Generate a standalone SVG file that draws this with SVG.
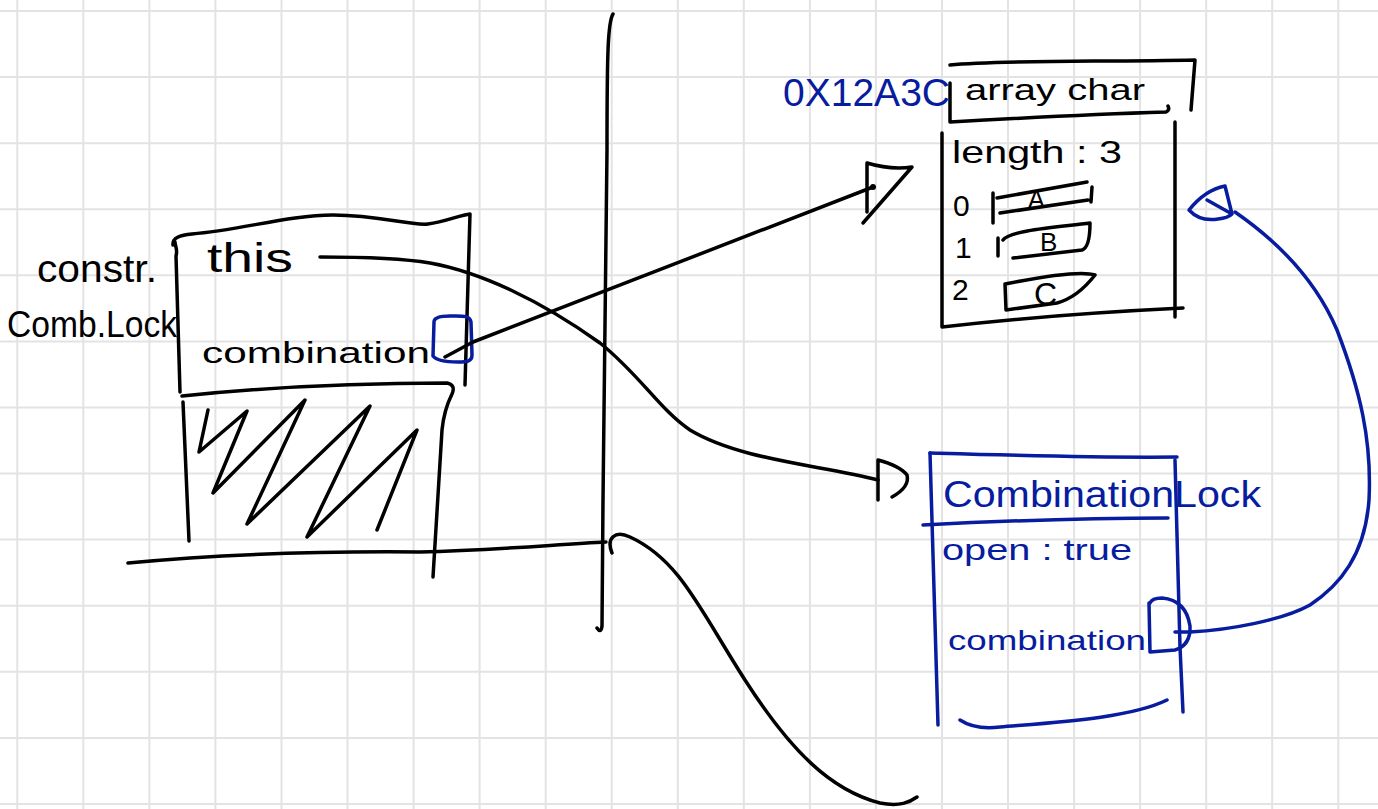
<svg xmlns="http://www.w3.org/2000/svg" width="1378" height="809" viewBox="0 0 1378 809">
<style>
.ink{fill:none;stroke:#000;stroke-width:3.5;stroke-linecap:round;stroke-linejoin:round}
.blue{fill:none;stroke:#071c9e;stroke-width:3.5;stroke-linecap:round;stroke-linejoin:round}
.t{font-family:"Liberation Sans",Arial,sans-serif;fill:#000}
.tb{font-family:"Liberation Sans",Arial,sans-serif;fill:#071c9e}
.grid line{stroke:#e3e3e3;stroke-width:2}
</style>
<rect width="1378" height="809" fill="#fff"/>
<g id="grid" class="grid">
<line x1="17.3" y1="0" x2="17.3" y2="809"/><line x1="83.3" y1="0" x2="83.3" y2="809"/><line x1="149.4" y1="0" x2="149.4" y2="809"/><line x1="215.4" y1="0" x2="215.4" y2="809"/><line x1="281.5" y1="0" x2="281.5" y2="809"/><line x1="347.5" y1="0" x2="347.5" y2="809"/><line x1="413.6" y1="0" x2="413.6" y2="809"/><line x1="479.6" y1="0" x2="479.6" y2="809"/><line x1="545.7" y1="0" x2="545.7" y2="809"/><line x1="611.7" y1="0" x2="611.7" y2="809"/><line x1="677.8" y1="0" x2="677.8" y2="809"/><line x1="743.8" y1="0" x2="743.8" y2="809"/><line x1="809.9" y1="0" x2="809.9" y2="809"/><line x1="875.9" y1="0" x2="875.9" y2="809"/><line x1="942" y1="0" x2="942" y2="809"/><line x1="1008" y1="0" x2="1008" y2="809"/><line x1="1074.1" y1="0" x2="1074.1" y2="809"/><line x1="1140.1" y1="0" x2="1140.1" y2="809"/><line x1="1206.2" y1="0" x2="1206.2" y2="809"/><line x1="1272.2" y1="0" x2="1272.2" y2="809"/><line x1="1338.3" y1="0" x2="1338.3" y2="809"/>
<line x1="0" y1="11" x2="1378" y2="11"/><line x1="0" y1="77.1" x2="1378" y2="77.1"/><line x1="0" y1="143.2" x2="1378" y2="143.2"/><line x1="0" y1="209.2" x2="1378" y2="209.2"/><line x1="0" y1="275.3" x2="1378" y2="275.3"/><line x1="0" y1="341.4" x2="1378" y2="341.4"/><line x1="0" y1="407.5" x2="1378" y2="407.5"/><line x1="0" y1="473.6" x2="1378" y2="473.6"/><line x1="0" y1="539.6" x2="1378" y2="539.6"/><line x1="0" y1="605.7" x2="1378" y2="605.7"/><line x1="0" y1="671.8" x2="1378" y2="671.8"/><line x1="0" y1="737.9" x2="1378" y2="737.9"/><line x1="0" y1="804" x2="1378" y2="804"/>
</g>
<g id="divider">
<path class="ink" d="M613,14 C608,22 607,50 607,150 L603,500 L602,626 Q601,634 597,628"/>
</g>
<g id="stack-frame">
<path class="ink" d="M173,245 C172,238 180,235 192,234 C240,230 290,215 333,215 C380,215 410,226 428,224 C445,222 460,215 470,214 L465,385"/>
<path class="ink" d="M175,242 C175,246 178,250 176,256 L180,392"/>
<path class="ink" d="M182,396 C250,389 350,383 447,383 Q456,385 452,394 Q444,410 442,430 L433,577"/>
<path class="ink" d="M183,402 L189,541"/>
<path class="ink" d="M208,410 L199,452 L247,411 L213,493 L305,400 L247,524 L370,406 L307,537 L417,430 L377,530"/>
<path class="ink" d="M128,563 C200,556 300,551 420,552 C500,550 560,544 606,542"/>
<text class="t" x="37" y="282" font-size="38" textLength="120" lengthAdjust="spacingAndGlyphs">constr.</text>
<text class="t" x="7" y="337" font-size="36" textLength="170" lengthAdjust="spacingAndGlyphs">Comb.Lock</text>
<text class="t" x="207" y="272" font-size="40" textLength="86" lengthAdjust="spacingAndGlyphs">this</text>
<text class="t" x="202" y="363" font-size="30" textLength="228" lengthAdjust="spacingAndGlyphs">combination</text>
<path class="blue" d="M434,322 C434,318 440,316 450,316 C462,316 470,315 471,322 L472,355 C472,362 466,362 458,362 C444,362 436,360 433,356 Z"/>
</g>
<g id="array-object">
<text class="tb" x="783" y="106" font-size="38" textLength="167" lengthAdjust="spacingAndGlyphs">0X12A3C</text>
<path class="ink" d="M950,65 C1000,60 1100,62 1195,60 L1191,110"/>
<path class="ink" d="M950,83 L950,122 C1020,118 1100,114 1166,112 Q1170,110 1168,106"/>
<path class="ink" d="M942,133 L942,327 C1020,318 1100,312 1183,308"/>
<path class="ink" d="M1175,122 L1175,317"/>
<text class="t" x="965" y="100" font-size="30" textLength="180" lengthAdjust="spacingAndGlyphs">array char</text>
<text class="t" x="952" y="163" font-size="32" textLength="170" lengthAdjust="spacingAndGlyphs">length : 3</text>
<text class="t" x="953" y="216" font-size="30">0</text>
<text class="t" x="955" y="258" font-size="30">1</text>
<text class="t" x="952" y="300" font-size="30">2</text>
<path class="ink" d="M993,193 L993,223 M997,198 L1087,182 M1000,213 L1088,200 M1092,187 L1091,202"/>
<text class="t" x="1028" y="208" font-size="25">A</text>
<path class="ink" d="M998,238 L998,256 M1003,240 C1010,230 1060,227 1090,223 C1090,238 1088,248 1082,250 L1013,258"/>
<text class="t" x="1040" y="251" font-size="26">B</text>
<path class="ink" d="M1005,284 L1006,310 L1057,303 C1075,298 1088,284 1095,275 C1080,270 1040,277 1005,284"/>
<text class="t" x="1034" y="305" font-size="32">C</text>
</g>
<g id="lock-object">
<path class="blue" d="M930,453 C1000,455 1100,458 1177,457"/>
<path class="blue" d="M930,453 L938,725"/>
<path class="blue" d="M1175,460 L1180,647 L1183,712"/>
<path class="blue" d="M923,525 C1000,521 1100,518 1168,518"/>
<path class="blue" d="M960,720 Q975,730 1000,727 C1060,722 1130,718 1167,700"/>
<text class="tb" x="943" y="507" font-size="36" textLength="318" lengthAdjust="spacingAndGlyphs">CombinationLock</text>
<text class="tb" x="942" y="560" font-size="30" textLength="190" lengthAdjust="spacingAndGlyphs">open : true</text>
<text class="tb" x="948" y="650" font-size="28" textLength="198" lengthAdjust="spacingAndGlyphs">combination</text>
<path class="blue" d="M1149,603 L1150,652 L1175,650 Q1191,645 1190,626 Q1186,600 1162,598 Q1152,598 1150,603"/>
</g>
<g id="connectors">
<path class="ink" d="M320,257 C360,257 400,258 430,263 C480,272 540,300 600,343 C640,375 660,410 690,430 C740,460 820,465 878,480"/>
<path class="ink" d="M878,460 L878,500 M878,460 Q900,466 907,475 Q910,487 892,497"/>
<path class="ink" d="M445,357 L473,342 L873,187"/>
<path class="ink" d="M867,163 L867,212 M867,163 Q890,170 912,167 L863,223"/>
<circle cx="873" cy="187" r="3" fill="#000"/>
<path class="ink" d="M612,553 C606,538 615,530 630,537 C680,560 700,610 745,680 C790,750 830,790 880,803 C900,807 910,802 917,797"/>
<path class="blue" d="M1175,632 L1190,632 C1230,630 1283,620 1310,605 C1340,585 1365,555 1369,500 C1372,440 1360,390 1337,330 C1320,290 1290,250 1235,212"/>
<path class="blue" d="M1207,200 L1232,214 L1225,186 Q1205,190 1189,210 Q1200,222 1218,219 Q1228,218 1232,214"/>
</g>
</svg>
